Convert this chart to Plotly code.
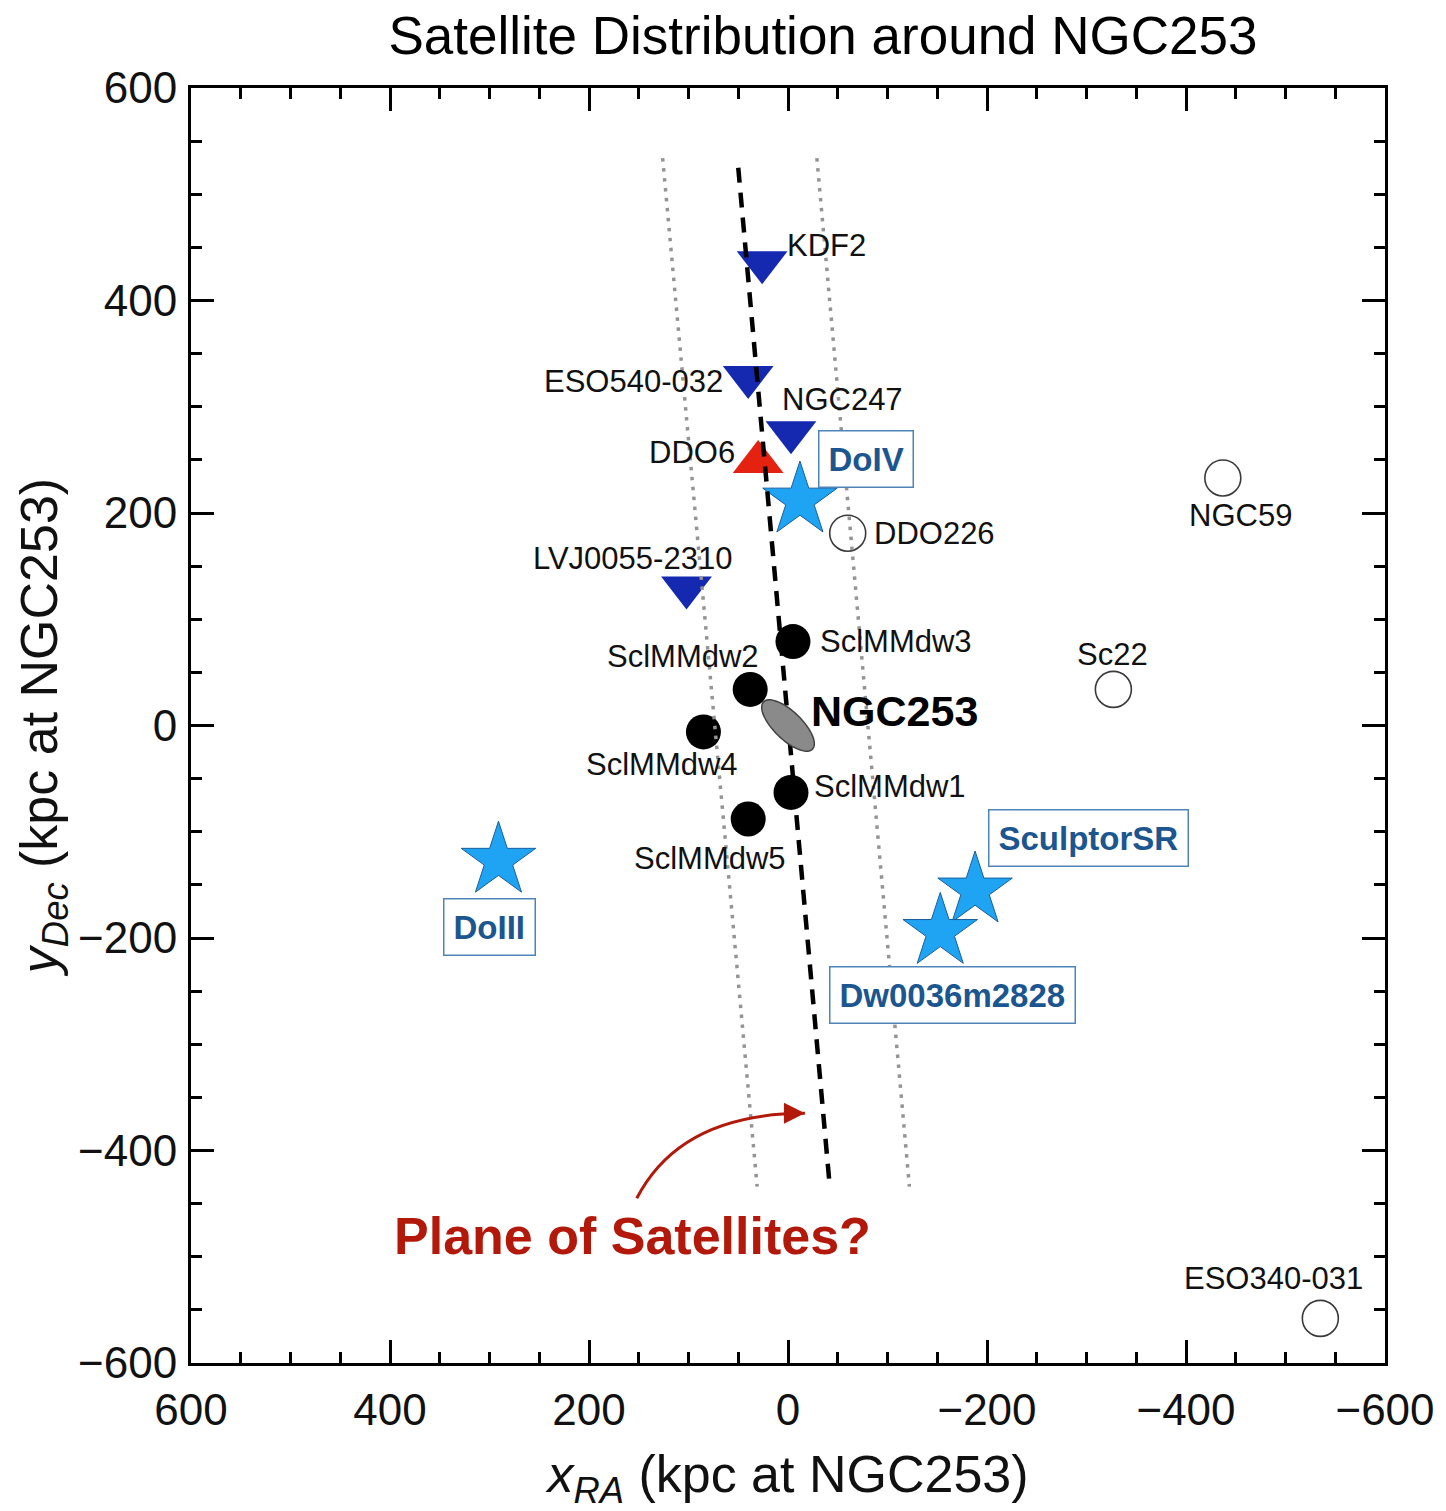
import numpy as np
import plotly.graph_objects as go

# ---------------- data ----------------
title_text = "Satellite Distribution around NGC253"

# blue downward triangles
tri_names = ["KDF2", "ESO540-032", "NGC247", "LVJ0055-2310"]
tri_x = [26, 40, -3, 102]
tri_y = [436, 328, 276, 130]

# red upward triangle
red_names = ["DDO6"]
red_x = [30]
red_y = [248]

# new discoveries (stars)
star_names = ["DoIV", "DoIII", "SculptorSR", "Dw0036m2828"]
star_x = [-12, 291, -188, -153]
star_y = [212, -127, -155, -194]

# filled black circles
dw_names = ["SclMMdw1", "SclMMdw2", "SclMMdw3", "SclMMdw4", "SclMMdw5"]
dw_x = [-3, 38, -5, 85, 40]
dw_y = [-63, 34, 79, -6, -88]

# open circles
open_names = ["DDO226", "NGC59", "Sc22", "ESO340-031"]
open_x = [-60, -437, -327, -535]
open_y = [181, 233, 34, -558]

# host
host_name = "NGC253"
host_x = [0]
host_y = [0]

# plane of satellites and band
plane_x = [50, -42]
plane_y = [525, -434]
band_left_x = [126, 31]
band_right_x = [-29, -122]
band_y = [534, -434]

# arrow (start, control, tip)
arrow_x = [152, 108, -17]
arrow_y = [-445, -365, -365]

tick_vals = [600, 400, 200, 0, -200, -400, -600]

# ---------------- layout geometry ----------------
W, H = 1446, 1511
L, R, T, B = 191, 61, 88, 148
PW, PH = W - L - R, H - T - B
SX, SY = PW / 1200.0, PH / 1200.0  # px per kpc

FONT = "Liberation Sans, Arial, Helvetica, sans-serif"
BLUE_TXT = "#1b5690"
BOX_COL = "#4f84ba"
RED_TXT = "#b3190b"

# label offsets in px: name -> (xanchor, xshift, yshift)
label_style = {
    "KDF2": ("left", 23, 17),
    "ESO540-032": ("right", -23, -4),
    "NGC247": ("left", -11, 33),
    "DDO6": ("right", -21, 10),
    "LVJ0055-2310": ("center", -54, 29),
    "DDO226": ("left", 24, 0),
    "NGC59": ("center", 18, -38),
    "Sc22": ("center", -1, 35),
    "ESO340-031": ("center", -47, 40),
    "SclMMdw1": ("left", 21, 6),
    "SclMMdw2": ("center", -67, 33),
    "SclMMdw3": ("left", 25, 0),
    "SclMMdw4": ("center", -41, -33),
    "SclMMdw5": ("center", -38, -39),
}
box_style = {
    "DoIV": (66, 41),
    "DoIII": (-9, -67),
    "SculptorSR": (113, 52),
    "Dw0036m2828": (12, -63),
}

fig = go.Figure()

# markers
fig.add_trace(go.Scatter(x=open_x, y=open_y, mode="markers",
                         marker=dict(symbol="circle", size=36, color="white",
                                     line=dict(color="#3a3a3a", width=1.6))))
fig.add_trace(go.Scatter(x=dw_x, y=dw_y, mode="markers",
                         marker=dict(symbol="circle", size=35, color="black",
                                     line=dict(width=0))))
fig.add_trace(go.Scatter(x=tri_x, y=tri_y, mode="markers",
                         marker=dict(symbol="triangle-down", size=44, color="#1428b0",
                                     line=dict(width=0))))
fig.add_trace(go.Scatter(x=red_x, y=red_y, mode="markers",
                         marker=dict(symbol="triangle-up", size=44, color="#e5210f",
                                     line=dict(width=0))))
fig.add_trace(go.Scatter(x=star_x, y=star_y, mode="markers",
                         marker=dict(symbol="star", size=56, color="#1ea4f2",
                                     line=dict(color="#1b5e9e", width=1))))

# NGC253 ellipse (shape)
a_px, b_px, th = 34, 14, np.deg2rad(44)
t = np.linspace(0, 2 * np.pi, 73)
ex, ey = a_px * np.cos(t), b_px * np.sin(t)
px = ex * np.cos(th) - ey * np.sin(th)
py = ex * np.sin(th) + ey * np.cos(th)
ell_x = host_x[0] - px / SX
ell_y = host_y[0] - py / SY
path = "M " + " L ".join(f"{a:.2f},{b:.2f}" for a, b in zip(ell_x, ell_y)) + " Z"
fig.add_shape(type="path", path=path, xref="x", yref="y",
              fillcolor="#8a8a8a", line=dict(color="#404040", width=1.5), layer="above")

# band + plane lines (drawn above markers)
fig.add_trace(go.Scatter(x=band_left_x, y=band_y, mode="lines",
                         line=dict(color="#949494", width=3.5, dash="3.5px,6.5px")))
fig.add_trace(go.Scatter(x=band_right_x, y=band_y, mode="lines",
                         line=dict(color="#949494", width=3.5, dash="3.5px,6.5px")))
fig.add_trace(go.Scatter(x=plane_x, y=plane_y, mode="lines",
                         line=dict(color="black", width=4.5, dash="15px,10px")))

# curved arrow
fig.add_shape(type="path", xref="x", yref="y",
              path=f"M {arrow_x[0]},{arrow_y[0]} Q {arrow_x[1]},{arrow_y[1]} {arrow_x[2]},{arrow_y[2]}",
              line=dict(color=RED_TXT, width=3))

ann = []
ann.append(dict(x=arrow_x[2], y=arrow_y[2], xref="x", yref="y", text="",
                showarrow=True, ax=-14, ay=0, arrowhead=2, arrowsize=1.4,
                arrowwidth=3, arrowcolor=RED_TXT, standoff=0))
ann.append(dict(x=arrow_x[0], y=arrow_y[0], xref="x", yref="y",
                text="<b>Plane of Satellites?</b>", showarrow=False,
                xshift=-4, yshift=-38, font=dict(family=FONT, size=52, color=RED_TXT)))

# black labels
all_pts = list(zip(tri_names, tri_x, tri_y)) + list(zip(red_names, red_x, red_y)) + \
    list(zip(dw_names, dw_x, dw_y)) + list(zip(open_names, open_x, open_y))
for n, x, y in all_pts:
    xa, xs, ys = label_style[n]
    ann.append(dict(x=x, y=y, xref="x", yref="y", text=n, showarrow=False,
                    xanchor=xa, yanchor="middle", xshift=xs, yshift=ys,
                    font=dict(family=FONT, size=31, color="#111111")))

ann.append(dict(x=host_x[0], y=host_y[0], xref="x", yref="y", text="<b>" + host_name + "</b>",
                showarrow=False, xanchor="left", yanchor="middle", xshift=21, yshift=15,
                font=dict(family=FONT, size=43, color="black")))

# boxed blue labels
for n, x, y in zip(star_names, star_x, star_y):
    xs, ys = box_style[n]
    ann.append(dict(x=x, y=y, xref="x", yref="y", text="<b>" + n + "</b>", showarrow=False,
                    xanchor="center", yanchor="middle", xshift=xs, yshift=ys,
                    bordercolor=BOX_COL, borderwidth=1.5, borderpad=9, bgcolor="white",
                    font=dict(family=FONT, size=33, color=BLUE_TXT)))

axis_common = dict(
    showgrid=False, zeroline=False, showline=True, linecolor="black", linewidth=3,
    mirror="ticks", ticks="inside", ticklen=23, tickwidth=2.5, tickcolor="black",
    tickvals=tick_vals, tickfont=dict(family=FONT, size=44, color="#111111"),
    minor=dict(dtick=50, tick0=0, ticks="inside", ticklen=11, tickwidth=2.5, tickcolor="black"),
    automargin=False,
)

fig.update_layout(
    width=W, height=H,
    margin=dict(l=L, r=R, t=T, b=B, pad=0, autoexpand=False),
    paper_bgcolor="white", plot_bgcolor="white",
    showlegend=False,
    title=dict(text=title_text, x=823 / W, xanchor="center", y=1 - 35 / H, yanchor="middle",
               font=dict(family=FONT, size=53, color="black")),
    xaxis=dict(range=[600, -600], ticklabelstandoff=6,
               title=dict(text="<i>x</i><sub><i>RA</i></sub> (kpc at NGC253)", standoff=34,
                          font=dict(family=FONT, size=52, color="#111111")),
               **axis_common),
    yaxis=dict(range=[-600, 600], ticklabelstandoff=2,
               title=dict(text="<i>y</i><sub><i>Dec</i></sub> (kpc at NGC253)", standoff=4,
                          font=dict(family=FONT, size=52, color="#111111")),
               **axis_common),
    annotations=ann,
)

fig.write_html("out.html")
